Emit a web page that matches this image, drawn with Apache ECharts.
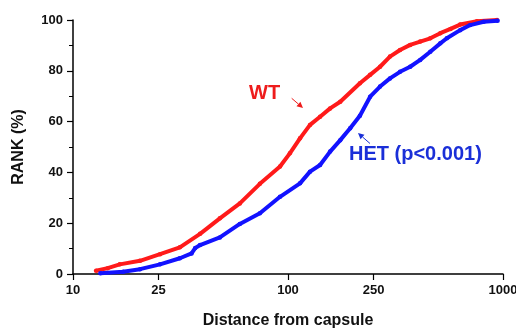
<!DOCTYPE html>
<html><head><meta charset="utf-8">
<script src="https://cdn.jsdelivr.net/npm/echarts@6/dist/echarts.min.js"></script>
<style>html,body{margin:0;padding:0;background:#fff}#c{width:516px;height:329px}</style>
</head><body><div id="c"></div>
<script>
const wtDistance = [12.8,14.5,16.5,20.5,25.4,31.4,39,48.2,59.7,74,91.8,102,113.7,126.6,141,157,175,216,241,268,298,332,370,412,459,511,570,632,757,938];
const wtRank =     [1.3,2.3,3.8,5.2,7.8,10.5,15.8,21.9,27.8,35.5,42.3,47.5,53.4,58.7,61.9,65.2,67.8,75.1,78.4,81.6,85.6,88.2,90.2,91.5,92.8,94.8,96.5,98.2,99.5,100];
const hetDistance = [13.4,17.1,20.5,25.4,31.4,35.6,37,39,48.2,59.7,74,91.8,113.7,126.6,141,157,175,194.6,216,241,268,298,332,370,412,459,511,548,632,704,813,944];
const hetRank =     [0.3,0.9,1.9,3.8,6.2,8.1,10.2,11.4,14.4,19.7,23.9,30.4,35.7,40.3,42.9,48.2,52.7,57.4,62.3,69.8,73.8,77,79.6,81.6,84.3,87.5,90.8,92.8,96,98,99.3,99.7];
const xTickLabels = [10,25,100,250,1000];
const yTicks = [0,20,40,60,80,100];

const FONT = 'Liberation Sans, Arial, sans-serif';
const toPts = (d, r) => d.map((v, i) => [Math.log10(v), r[i]]);

function arrow(x1, y1, x2, y2, color) {
  const dx = x2 - x1, dy = y2 - y1, L = Math.hypot(dx, dy);
  const ux = dx / L, uy = dy / L, hl = 6, hw = 3;
  const bx = x2 - ux * hl, by = y2 - uy * hl;
  return [
    {type: 'line', shape: {x1, y1, x2: bx, y2: by}, style: {stroke: color, lineWidth: 1}},
    {type: 'polygon', shape: {points: [[x2, y2], [bx - uy * hw, by + ux * hw], [bx + uy * hw, by - ux * hw]]}, style: {fill: color}}
  ];
}

const chart = echarts.init(document.getElementById('c'), null, {renderer: 'canvas'});
chart.setOption({
  animation: false,
  backgroundColor: '#fff',
  grid: {left: 73, right: 13, top: 20, bottom: 55, containLabel: false, outerBoundsMode: 'none'},
  xAxis: {
    type: 'value', min: 1, max: 3,
    name: 'Distance from capsule', nameLocation: 'middle', nameGap: 39,
    nameTextStyle: {fontFamily: FONT, fontWeight: 'bold', fontSize: 16, color: '#111'},
    axisLine: {lineStyle: {color: '#000', width: 1.5}},
    axisTick: {show: true, length: 6, lineStyle: {color: '#000', width: 1.2}, customValues: xTickLabels.map(Math.log10)},
    axisLabel: {fontFamily: FONT, fontWeight: 'bold', fontSize: 13, color: '#111', margin: 10, hideOverlap: false,
      customValues: xTickLabels.map(Math.log10), formatter: v => String(Math.round(Math.pow(10, v)))},
    splitLine: {show: false}
  },
  yAxis: {
    type: 'value', min: 0, max: 100, interval: 20,
    name: 'RANK (%)', nameLocation: 'middle', nameGap: 46, nameRotate: 90,
    nameTextStyle: {fontFamily: FONT, fontWeight: 'bold', fontSize: 16, color: '#111'},
    axisLine: {show: true, lineStyle: {color: '#000', width: 1.5}},
    axisTick: {show: true, length: 6, lineStyle: {color: '#000', width: 1.2}},
    minorTick: {show: true, splitNumber: 2, length: 4, lineStyle: {color: '#000', width: 1}},
    axisLabel: {fontFamily: FONT, fontWeight: 'bold', fontSize: 13, color: '#111', margin: 10},
    splitLine: {show: false}
  },
  series: [
    {name: 'WT', type: 'line', data: toPts(wtDistance, wtRank), showSymbol: true, symbol: 'circle', symbolSize: 4.5,
     itemStyle: {color: '#ff1a1a'}, lineStyle: {color: '#ff1a1a', width: 4}, z: 2},
    {name: 'HET', type: 'line', data: toPts(hetDistance, hetRank), showSymbol: true, symbol: 'circle', symbolSize: 4.5,
     itemStyle: {color: '#1212ff'}, lineStyle: {color: '#1212ff', width: 4}, z: 3}
  ],
  graphic: [
    {type: 'text', left: 249, top: 83, style: {text: 'WT', fontFamily: FONT, fontWeight: 'bold', fontSize: 20, fill: '#ee1c1c'}},
    {type: 'text', left: 349, top: 144, style: {text: 'HET (p<0.001)', fontFamily: FONT, fontWeight: 'bold', fontSize: 20, fill: '#1a2fd8'}},
    ...arrow(291.7, 98.3, 303, 108, '#ee1c1c'),
    ...arrow(370, 143.5, 358, 133, '#1a2fd8')
  ]
});
</script></body></html>
